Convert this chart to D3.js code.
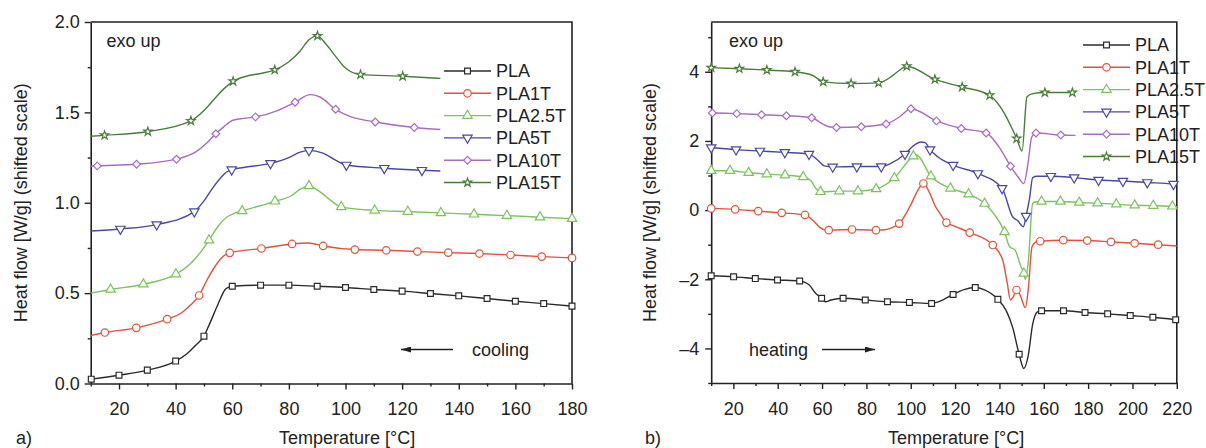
<!DOCTYPE html>
<html>
<head>
<meta charset="utf-8">
<script src="https://cdn.jsdelivr.net/npm/d3@7"></script>
<style>
  body { margin: 0; background: #fff; }
  svg { display: block; font-family: "Liberation Sans", Arial, sans-serif; }
</style>
</head>
<body>
<script>
// series names (same for both panels)
const seriesNames = ["PLA", "PLA1T", "PLA2.5T", "PLA5T", "PLA10T", "PLA15T"];

// ---- a) cooling : marker points [T, W/g] and extra curve points
const coolPLA = [[10.2,0.024],[20,0.046],[30,0.074],[40,0.124],[50,0.262],[60,0.538],[70,0.544],[80,0.544],[90,0.538],[100,0.531],[110,0.520],[120,0.511],[130,0.498],[140,0.485],[150,0.470],[160,0.455],[170,0.442],[180,0.428]];
const coolPLAshape = [[44,0.165],[47,0.21],[52,0.33],[55,0.44],[57.5,0.52],[59,0.535]];

const coolPLA1T = [[15,0.282],[26.1,0.308],[37,0.356],[48.3,0.487],[59.1,0.723],[70.3,0.747],[81.1,0.772],[92.1,0.761],[103.3,0.741],[114.4,0.737],[125.4,0.730],[136.3,0.724],[147.3,0.719],[158.3,0.711],[169.3,0.702],[180,0.695]];
const coolPLA1Tshape = [[10,0.265],[42,0.39],[45,0.43],[51,0.57],[54,0.65],[56.5,0.70],[87,0.777]];

const coolPLA25T = [[17,0.52],[28.6,0.549],[40.1,0.605],[51.8,0.793],[63.5,0.955],[75.1,1.008],[87.1,1.093],[98.5,0.977],[110.3,0.958],[122,0.951],[133.7,0.944],[145.4,0.936],[157,0.929],[168.7,0.920],[180,0.912]];
const coolPLA25Tshape = [[10,0.50],[45,0.66],[48.5,0.72],[55,0.87],[58,0.92],[60.5,0.94],[81,1.04],[84,1.075],[91,1.06],[95,1.01]];

const coolPLA5T = [[20.5,0.855],[33.3,0.879],[46.6,0.951],[59.8,1.183],[73.5,1.218],[87.1,1.290],[100.3,1.209],[113.7,1.191],[127,1.180]];
const coolPLA5Tshape = [[10,0.844],[50,1.01],[53,1.08],[56,1.14],[58,1.17],[64,1.195],[80,1.25],[84,1.28],[92,1.275],[96,1.24],[133.5,1.176]];

const coolPLA10T = [[12.3,1.204],[26.2,1.213],[40.3,1.241],[54.2,1.382],[68.2,1.475],[82.2,1.556],[96.5,1.517],[110.5,1.447],[124.3,1.416]];
const coolPLA10Tshape = [[10,1.202],[47,1.28],[51,1.33],[57,1.42],[60,1.455],[63,1.465],[76,1.51],[87.5,1.598],[91,1.585],[102,1.475],[133.5,1.405]];

const coolPLA15T = [[14.9,1.373],[30.2,1.394],[45.4,1.453],[60.3,1.672],[75,1.735],[90.1,1.923],[105.3,1.709],[120.2,1.700]];
const coolPLA15Tshape = [[10,1.368],[50,1.51],[54,1.58],[57,1.63],[65,1.70],[70,1.715],[80,1.78],[84,1.84],[87,1.9],[93,1.88],[97,1.80],[100,1.745],[133.5,1.688]];

// ---- b) heating
const heatPLA = [[10,-1.90],[20.1,-1.93],[29.9,-1.98],[39.9,-2.02],[49.9,-2.05],[59.8,-2.55],[69.5,-2.55],[79.5,-2.60],[89.5,-2.65],[99.4,-2.67],[109.4,-2.70],[119.1,-2.44],[129.1,-2.24],[139.3,-2.58],[148.9,-4.17],[159,-2.91],[168.9,-2.91],[178.6,-2.96],[188.8,-3.00],[199,-3.05],[209.2,-3.10],[219.5,-3.17]];
const heatPLAshape = [[54,-2.15],[57,-2.4],[61.5,-2.65],[64,-2.6],[112,-2.66],[115,-2.58],[124,-2.3],[133,-2.3],[143,-2.9],[146,-3.4],[151,-4.58],[153,-4.2],[155,-3.3],[157,-2.95]];

const heatPLA1T = [[10,0.05],[20.8,0.02],[31.2,-0.03],[41.8,-0.08],[52.3,-0.14],[63,-0.58],[73.5,-0.56],[84.3,-0.58],[94.8,-0.39],[105.7,0.77],[116.1,-0.36],[126.6,-0.65],[137,-1.01],[147.7,-2.31],[158.4,-0.90],[168.8,-0.87],[179.6,-0.88],[190.3,-0.92],[201,-0.96],[211.6,-1.00]];
const heatPLA1Tshape = [[56,-0.3],[59,-0.5],[61,-0.57],[88,-0.57],[91,-0.52],[100,0.15],[103,0.55],[108.5,0.5],[111,0.12],[113,-0.08],[120,-0.47],[141.5,-1.45],[143.5,-2.1],[145,-2.6],[146.3,-2.5],[149.3,-2.45],[151.7,-2.82],[153,-2.3],[154.7,-1.06],[156.5,-0.92],[220,-1.04]];

const heatPLA25T = [[10,1.14],[18.5,1.14],[26.9,1.08],[35.1,1.04],[43.3,1.01],[51.5,0.96],[59.3,0.53],[67.8,0.55],[76.2,0.55],[84.4,0.61],[92.6,0.93],[101.2,1.56],[109.1,0.98],[117.9,0.63],[126.1,0.46],[133.3,0.19],[142.3,-0.63],[151,-1.83],[159,0.25],[167.5,0.25],[176,0.22],[184.3,0.2],[192.7,0.17],[201,0.14],[209.4,0.13],[218,0.11]];
const heatPLA25Tshape = [[55,0.85],[57.5,0.6],[102.5,1.6],[138,-0.15],[144.6,-1.06],[147,-1.15],[149.5,-1.6],[151.7,-2.0],[153,-1.5],[155,0.19],[156.5,0.24],[220,0.1]];

const heatPLA5T = [[10,1.81],[21.2,1.75],[32,1.71],[43.2,1.67],[54.1,1.62],[64.8,1.25],[75.7,1.26],[86.7,1.26],[97.4,1.62],[108.7,1.75],[119.1,1.30],[130.3,1.06],[141.2,0.63],[152,-0.17],[163.2,0.98],[173.7,0.94],[184.7,0.87],[195.7,0.84],[206.7,0.80],[218.5,0.75]];
const heatPLA5Tshape = [[58,1.45],[61,1.28],[91,1.35],[101,1.85],[104.6,1.97],[106.5,1.95],[112,1.55],[146,-0.2],[148.2,-0.3],[150.8,-0.48],[153.5,0.3],[155,0.94],[157,0.98],[220,0.73]];

const heatPLA10T = [[10.5,2.81],[21.5,2.79],[32.7,2.76],[43.9,2.73],[55.3,2.67],[66.5,2.39],[77.7,2.41],[88.9,2.49],[100.1,2.93],[111.6,2.58],[122.8,2.36],[134,2.23],[145,1.27],[156.5,2.23],[167.7,2.17]];
const heatPLA10Tshape = [[10,2.81],[60,2.5],[63,2.41],[95,2.7],[140.8,1.73],[148.5,0.95],[151,0.77],[153,1.4],[154.5,2.1],[174.3,2.16]];

const heatPLA15T = [[10,4.12],[22.7,4.09],[35.1,4.05],[47.8,4.00],[60.5,3.71],[73.1,3.66],[85.5,3.68],[98.2,4.16],[110.9,3.78],[123.2,3.56],[135.6,3.32],[147.8,2.07],[160.5,3.40],[172.9,3.40]];
const heatPLA15Tshape = [[55.6,3.90],[58.5,3.78],[91,3.85],[94,4.0],[142.3,2.79],[145.3,2.41],[150.2,1.71],[152.4,3.27],[154.6,3.36],[174.3,3.40]];

// axis ticks
const coolXMajor = [20, 40, 60, 80, 100, 120, 140, 160, 180];
const coolXMinor = [10, 30, 50, 70, 90, 110, 130, 150, 170];
const coolYMajor = [0, 0.5, 1.0, 1.5, 2.0];
const coolYMinor = [0.25, 0.75, 1.25, 1.75];
const heatXMajor = [20, 40, 60, 80, 100, 120, 140, 160, 180, 200, 220];
const heatXMinor = [10, 30, 50, 70, 90, 110, 130, 150, 170, 190, 210];
const heatYMajor = [-4, -2, 0, 2, 4];
const heatYMinor = [-5, -3, -1, 1, 3, 5];

// styles
const colors = ["#2b2b2b", "#e4523b", "#7cc35e", "#4848a8", "#a66cc7", "#4a7d3c"];
const fontSize = 18;

const coolingSeries = [
  [coolPLA, coolPLAshape], [coolPLA1T, coolPLA1Tshape], [coolPLA25T, coolPLA25Tshape],
  [coolPLA5T, coolPLA5Tshape], [coolPLA10T, coolPLA10Tshape], [coolPLA15T, coolPLA15Tshape]
];
const heatingSeries = [
  [heatPLA, heatPLAshape], [heatPLA1T, heatPLA1Tshape], [heatPLA25T, heatPLA25Tshape],
  [heatPLA5T, heatPLA5Tshape], [heatPLA10T, heatPLA10Tshape], [heatPLA15T, heatPLA15Tshape]
];

const svg = d3.select("body").append("svg").attr("width", 1206).attr("height", 448);

// arrow heads
const defs = svg.append("defs");
defs.append("marker").attr("id", "arrow").attr("viewBox", "0 0 10 6")
  .attr("refX", 10).attr("refY", 3).attr("markerWidth", 10).attr("markerHeight", 6)
  .attr("markerUnits", "userSpaceOnUse").attr("orient", "auto-start-reverse")
  .append("path").attr("d", "M0,0L10,3L0,6Z").attr("fill", "#222");

function symbolFor(i) {
  if (i === 0) return d3.symbol(d3.symbolSquare, 34)();
  if (i === 1) return d3.symbol(d3.symbolCircle, 44)();
  if (i === 2) return d3.symbol(d3.symbolTriangle, 38)();
  if (i === 3) return d3.symbol(d3.symbolTriangle, 38)();
  if (i === 4) return d3.symbol(d3.symbolSquare, 30)();
  return d3.symbol(d3.symbolStar, 22)();
}
function symbolRot(i) {
  if (i === 3) return 180;
  if (i === 4) return 45;
  return 0;
}

function drawPanel(cfg) {
  const g = svg.append("g");
  const x = d3.scaleLinear().domain(cfg.xDomain).range(cfg.xRange);
  const y = d3.scaleLinear().domain(cfg.yDomain).range(cfg.yRange);
  const [x0, x1] = cfg.xRange;
  const [y0, y1] = cfg.yRange;

  // frame top and right
  g.append("path")
    .attr("d", `M${x0},${y1}H${x1}V${y0}`)
    .attr("fill", "none").attr("stroke", "#222").attr("stroke-width", 1.6);

  // minor ticks
  g.append("g").attr("transform", `translate(0,${y0})`)
    .call(d3.axisBottom(x).tickValues(cfg.xMinor).tickSize(3).tickFormat(""))
    .call(a => a.select(".domain").remove());
  g.append("g").attr("transform", `translate(${x0},0)`)
    .call(d3.axisLeft(y).tickValues(cfg.yMinor).tickSize(3).tickFormat(""))
    .call(a => a.select(".domain").remove());

  // major ticks
  const xa = g.append("g").attr("transform", `translate(0,${y0})`)
    .call(d3.axisBottom(x).tickValues(cfg.xMajor).tickSize(6).tickSizeOuter(0).tickPadding(13));
  const ya = g.append("g").attr("transform", `translate(${x0},0)`)
    .call(d3.axisLeft(y).tickValues(cfg.yMajor).tickSize(6).tickSizeOuter(0)
      .tickPadding(cfg.yPad).tickFormat(cfg.yFormat));
  [xa, ya].forEach(a => {
    a.attr("font-size", fontSize).attr("font-family", null);
    a.selectAll("text").attr("fill", "#222");
    a.select(".domain").attr("stroke", "#222").attr("stroke-width", 1.6);
  });
  g.selectAll(".tick line").attr("stroke", "#222").attr("stroke-width", 1.4);

  // curves
  const line = d3.line().x(d => x(d[0])).y(d => y(d[1])).curve(d3.curveMonotoneX);
  cfg.series.forEach(([marks, shape], i) => {
    const pts = marks.concat(shape).sort((a, b) => a[0] - b[0]);
    g.append("path").datum(pts).attr("d", line)
      .attr("fill", "none").attr("stroke", colors[i]).attr("stroke-width", 1.4);
  });
  cfg.series.forEach(([marks], i) => {
    g.append("g").selectAll("path").data(marks).join("path")
      .attr("d", symbolFor(i))
      .attr("transform", d => `translate(${x(d[0])},${y(d[1])}) rotate(${symbolRot(i)})`)
      .attr("fill", "#fff").attr("stroke", colors[i]).attr("stroke-width", 1.2);
  });

  // legend
  const lg = g.append("g");
  seriesNames.forEach((name, i) => {
    const ly = cfg.legend.y + i * 22.3;
    lg.append("line").attr("x1", cfg.legend.x).attr("x2", cfg.legend.x + 47)
      .attr("y1", ly).attr("y2", ly).attr("stroke", colors[i]).attr("stroke-width", 1.4);
    lg.append("path").attr("d", symbolFor(i))
      .attr("transform", `translate(${cfg.legend.x + 23.5},${ly}) rotate(${symbolRot(i)})`)
      .attr("fill", "#fff").attr("stroke", colors[i]).attr("stroke-width", 1.2);
    lg.append("text").attr("x", cfg.legend.x + 52).attr("y", ly).attr("dy", "0.35em")
      .attr("font-size", fontSize).attr("fill", "#222").text(name);
  });

  // labels
  g.append("text").attr("transform", `translate(${cfg.yTitleX},${(y0 + y1) / 2}) rotate(-90)`)
    .attr("text-anchor", "middle").attr("dy", "0.35em").attr("font-size", fontSize).attr("fill", "#222")
    .text("Heat flow [W/g] (shifted scale)");
  g.append("text").attr("x", cfg.xTitleX).attr("y", 444)
    .attr("font-size", fontSize).attr("fill", "#222").text("Temperature [°C]");
  g.append("text").attr("x", cfg.tagX).attr("y", 444)
    .attr("font-size", fontSize).attr("fill", "#222").text(cfg.tag);
  g.append("text").attr("x", cfg.exoX).attr("y", 47)
    .attr("font-size", fontSize).attr("fill", "#222").text("exo up");

  // direction note
  g.append("text").attr("x", cfg.note.tx).attr("y", 356)
    .attr("font-size", fontSize).attr("fill", "#222").text(cfg.note.text);
  g.append("line").attr("x1", cfg.note.a0).attr("x2", cfg.note.a1)
    .attr("y1", 349.5).attr("y2", 349.5).attr("stroke", "#222").attr("stroke-width", 1.4)
    .attr("marker-end", "url(#arrow)");
}

drawPanel({
  xDomain: [10, 180], xRange: [90.7, 572],
  yDomain: [0, 2], yRange: [383.5, 22],
  xMajor: coolXMajor, xMinor: coolXMinor, yMajor: coolYMajor, yMinor: coolYMinor,
  yFormat: d3.format(".1f"), yPad: 5,
  series: coolingSeries,
  legend: { x: 444, y: 71 },
  yTitleX: 21, xTitleX: 279, tag: "a)", tagX: 16, exoX: 106.5,
  note: { text: "cooling", tx: 472, a0: 453, a1: 401 }
});

drawPanel({
  xDomain: [10, 220], xRange: [711.2, 1176.8],
  yDomain: [-5, 5.44], yRange: [383, 22],
  xMajor: heatXMajor, xMinor: heatXMinor, yMajor: heatYMajor, yMinor: heatYMinor,
  yFormat: d => d < 0 ? "\u2013" + Math.abs(d) : String(d), yPad: 6,
  series: heatingSeries,
  legend: { x: 1083, y: 45 },
  yTitleX: 649.5, xTitleX: 888, tag: "b)", tagX: 645, exoX: 729,
  note: { text: "heating", tx: 749, a0: 822, a1: 875 }
});
</script>
</body>
</html>
